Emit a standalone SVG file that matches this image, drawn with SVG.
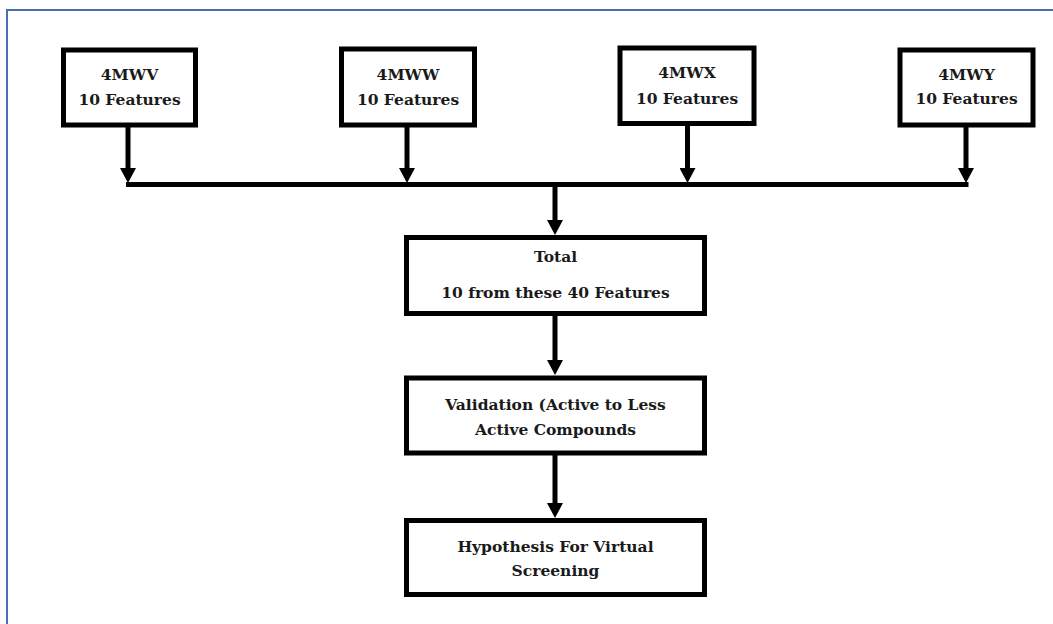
<svg xmlns="http://www.w3.org/2000/svg" width="1053" height="624" viewBox="0 0 1053 624">
<style>
.box{fill:#fff;stroke:#000;stroke-width:5}
.t{font-family:'DejaVu Serif','Liberation Serif',serif;font-weight:bold;font-size:15.5px;fill:#1a1a1a;text-anchor:middle}
.c{stroke:#000;stroke-width:5;fill:none}
</style>
<defs>
<marker id="ah" viewBox="0 0 15 16" markerWidth="15" markerHeight="16" refX="3" refY="8" orient="auto" markerUnits="userSpaceOnUse">
<path d="M0,0 L15,8 L0,16 z" fill="#000"/>
</marker>
</defs>
<rect width="1053" height="624" fill="#fff"/>
<path d="M7,624 L7,10 L1053,10" fill="none" stroke="#4a6db5" stroke-width="2"/>
<g id="connectors">
<line class="c" x1="128" y1="127" x2="128" y2="171" marker-end="url(#ah)"/>
<line class="c" x1="407" y1="127" x2="407" y2="171" marker-end="url(#ah)"/>
<line class="c" x1="687.5" y1="126" x2="687.5" y2="171" marker-end="url(#ah)"/>
<line class="c" x1="966" y1="127" x2="966" y2="171" marker-end="url(#ah)"/>
<line class="c" x1="126" y1="184.5" x2="968.5" y2="184.5"/>
<line class="c" x1="555" y1="187" x2="555" y2="223" marker-end="url(#ah)"/>
<line class="c" x1="555" y1="315" x2="555" y2="363" marker-end="url(#ah)"/>
<line class="c" x1="555" y1="455" x2="555" y2="506" marker-end="url(#ah)"/>
</g>
<g id="n4mwv">
<rect class="box" x="63.5" y="50" width="132" height="75"/>
<text class="t" x="129.5" y="80">4MWV</text>
<text class="t" x="129.5" y="105">10 Features</text>
</g>
<g id="n4mww">
<rect class="box" x="341.5" y="49" width="133" height="76"/>
<text class="t" x="408" y="80">4MWW</text>
<text class="t" x="408" y="105">10 Features</text>
</g>
<g id="n4mwx">
<rect class="box" x="620" y="48" width="134" height="75.5"/>
<text class="t" x="687" y="78">4MWX</text>
<text class="t" x="687" y="103.5">10 Features</text>
</g>
<g id="n4mwy">
<rect class="box" x="900" y="50" width="133" height="75"/>
<text class="t" x="966.5" y="79.5">4MWY</text>
<text class="t" x="966.5" y="104">10 Features</text>
</g>
<g id="total">
<rect class="box" x="406.5" y="237.5" width="298" height="76"/>
<text class="t" x="555.5" y="262">Total</text>
<text class="t" x="555.5" y="298">10 from these 40 Features</text>
</g>
<g id="validation">
<rect class="box" x="406.5" y="378" width="298" height="75"/>
<text class="t" x="555.5" y="410">Validation (Active to Less</text>
<text class="t" x="555.5" y="435">Active Compounds</text>
</g>
<g id="hypothesis">
<rect class="box" x="406.5" y="520.5" width="298" height="74"/>
<text class="t" x="555.5" y="551.5">Hypothesis For Virtual</text>
<text class="t" x="555.5" y="576">Screening</text>
</g>
</svg>
